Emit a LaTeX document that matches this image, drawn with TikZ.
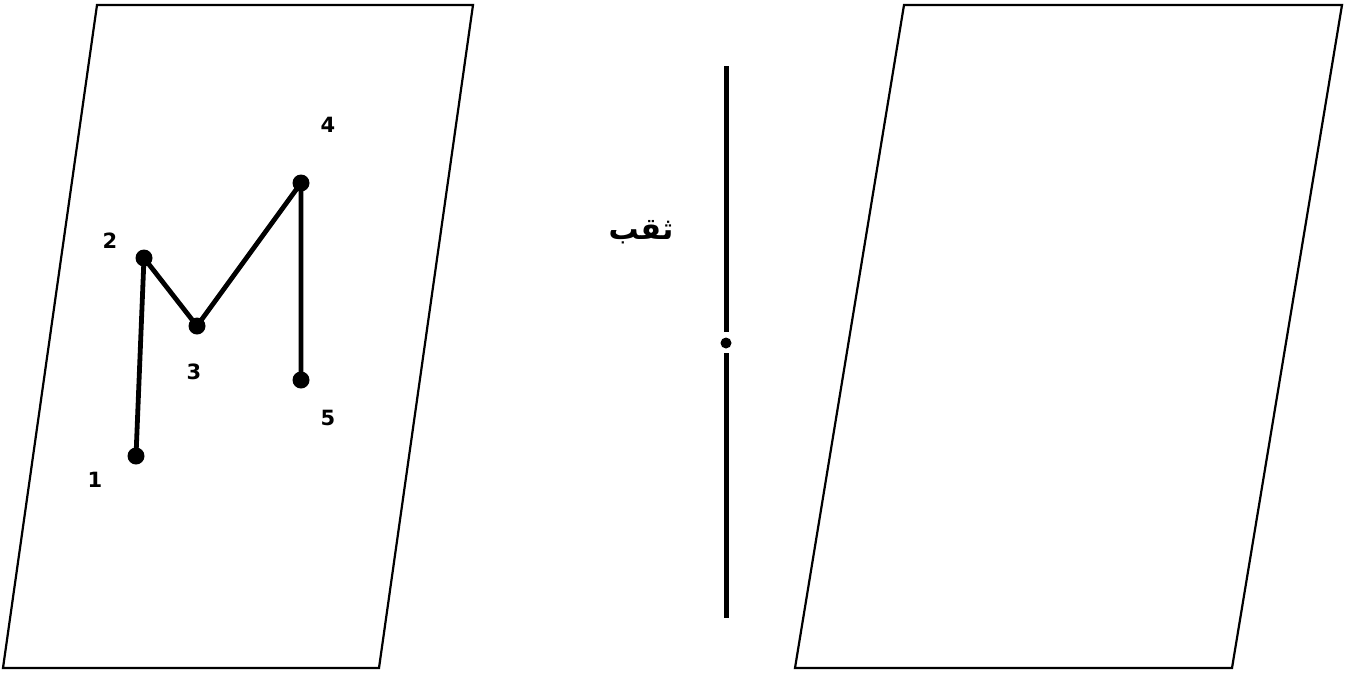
\documentclass[tikz,border=0pt]{standalone}
\usepackage{fontspec}
\setmainfont{DejaVu Sans}
\newfontfamily\arabicfont[Script=Arabic]{DejaVu Sans}
\TeXXeTstate=1
\begin{document}
\begin{tikzpicture}[x=1pt,y=-1pt,
  plane/.style={draw=black,line width=2.2pt,line join=miter},
  pt/.style={circle,fill=black,inner sep=0pt,minimum size=17pt},
  seg/.style={line width=4.8pt},
  lbl/.style={font=\fontsize{21}{24}\selectfont\bfseries,inner sep=0pt}]
\useasboundingbox (0,0) rectangle (1347,673);
\draw[plane] (97,5) -- (473,5) -- (379,668) -- (3,668) -- cycle;
\draw[plane] (904,5) -- (1342,5) -- (1232,668) -- (795,668) -- cycle;
\node[pt] (p1) at (136,456) {};
\node[pt] (p2) at (144,258) {};
\node[pt] (p3) at (197,326) {};
\node[pt] (p4) at (301,183) {};
\node[pt] (p5) at (301,380) {};
\draw[seg] (p1.center) -- (p2.center) -- (p3.center) -- (p4.center) -- (p5.center);
\node[lbl] (l1) at (95,480) {1};
\node[lbl] (l2) at (110,241) {2};
\node[lbl] (l3) at (194,372) {3};
\node[lbl] (l4) at (328,125) {4};
\node[lbl] (l5) at (328,418) {5};
\coordinate (vt) at (726,66);
\coordinate (vb) at (726,618);
\node[circle,fill=black,inner sep=0pt,minimum size=11pt] (hole) at (726,343) {};
\draw[line width=5pt] (vt) -- (726,332);
\draw[line width=5pt] (726,353) -- (vb);
\node[inner sep=0pt,font=\fontsize{30}{32}\selectfont\bfseries] (thaqb) at (641,232) {\arabicfont\beginR ثقب\endR};
\end{tikzpicture}
\end{document}
